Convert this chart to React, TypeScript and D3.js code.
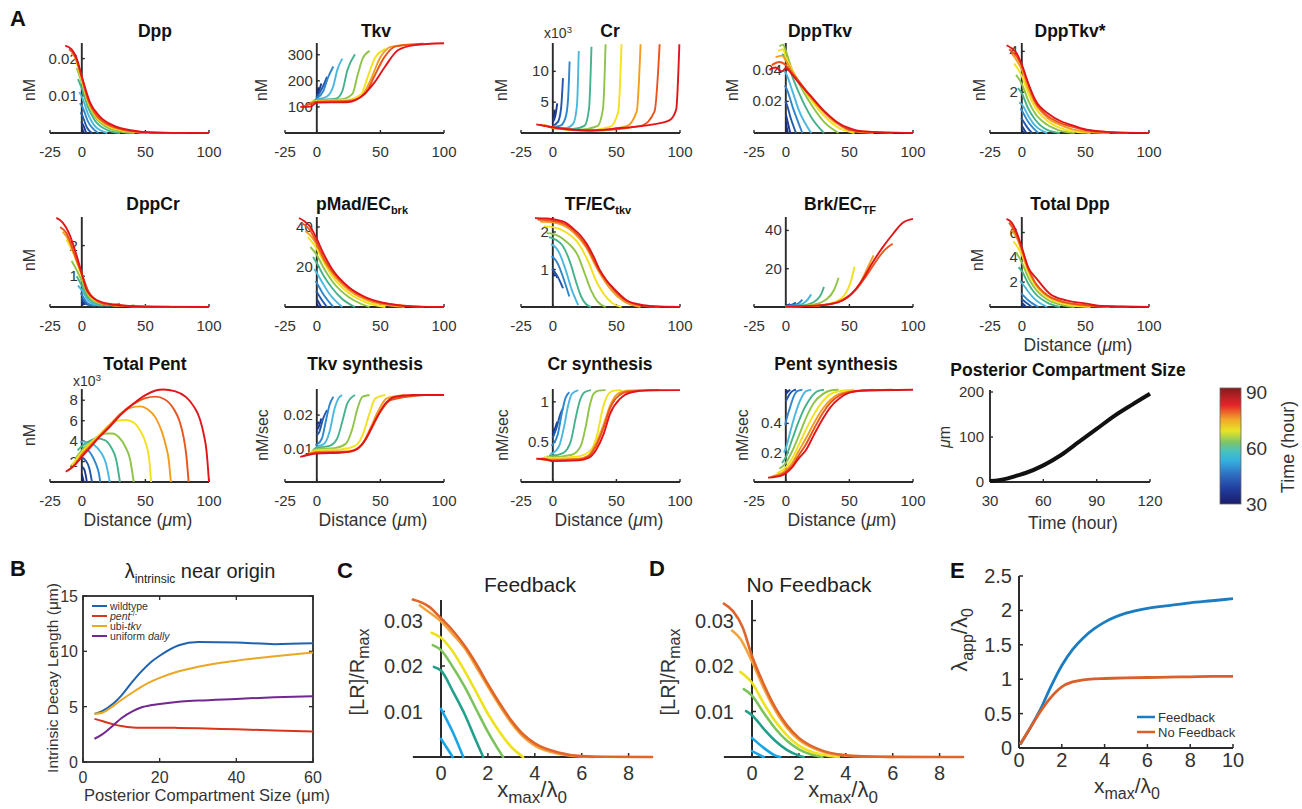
import React from 'react';
import * as d3 from 'd3';

type Pt = [number, number];

const FONT = '"Liberation Sans", Arial, Helvetica, sans-serif';
const AXIS = '#2b2b2b';
const TXT = '#333';

// ---------- panel A: shared ----------
const times = [30, 36, 42, 48, 54, 60, 66, 72, 78, 84, 90];
const timeColors = ['#172a75', '#1b3a8f', '#2257ac', '#2f86cc', '#4ab7e0', '#45b38a', '#8fc447', '#f2e11c', '#f39c1e', '#e8541c', '#e1141a'];
const distTicks = [-25, 0, 50, 100];

const dppCurves: Pt[][] = [
  [[0, 0.0015], [1.5, 0]],
  [[-0.5, 0.003], [0, 0.0028], [3.5, 0]],
  [[-1, 0.0055], [0, 0.005], [4, 0.0015], [8, 0]],
  [[-1.5, 0.008], [0, 0.0073], [5, 0.003], [13, 0]],
  [[-2, 0.011], [0, 0.0098], [5, 0.005], [10, 0.002], [20, 0]],
  [[-3, 0.0145], [0, 0.012], [5, 0.0068], [10, 0.0035], [20, 0.0008], [30, 0]],
  [[-4, 0.0175], [0, 0.0135], [5, 0.0078], [10, 0.0045], [20, 0.0015], [30, 0.0004], [41.5, 0]],
  [[-5, 0.02], [0, 0.0142], [5, 0.0083], [10, 0.005], [20, 0.002], [30, 0.0008], [54, 0]],
  [[-8, 0.0215], [-4, 0.0195], [0, 0.0147], [5, 0.0087], [10, 0.0053], [20, 0.0022], [30, 0.001], [45, 0.0002], [69, 0]],
  [[-10, 0.0225], [-5, 0.0205], [0, 0.015], [5, 0.0089], [10, 0.0055], [20, 0.0024], [30, 0.0011], [45, 0.0003], [84, 0]],
  [[-13, 0.0235], [-8, 0.0225], [-4, 0.02], [0, 0.0152], [6.5, 0.0082], [14, 0.0045], [25, 0.002], [41, 0.0006], [50, 0.0002], [70, 0.00003], [100, 0]],
];

const tkvCurves: Pt[][] = [
  [[0, 155], [1.5, 175]],
  [[0, 145], [2, 165], [3.5, 190]],
  [[-0.5, 138], [0, 140], [4, 170], [8, 215]],
  [[-1, 130], [0, 133], [5, 160], [9, 215], [13, 255]],
  [[-2, 125], [0, 128], [8, 140], [13, 180], [16, 240], [20, 285]],
  [[-3, 123], [0, 126], [15, 132], [20, 160], [24, 240], [30, 302]],
  [[-4, 120], [0, 124], [20, 130], [28, 150], [32, 220], [36, 285], [41.5, 315]],
  [[-5, 118], [0, 122], [25, 128], [35, 150], [40, 215], [46, 290], [54, 322]],
  [[-7, 110], [0, 120], [25, 124], [35, 140], [42, 200], [50, 290], [58, 330], [69, 338]],
  [[-10, 102], [0, 119], [25, 122], [38, 150], [45, 215], [53, 290], [62, 332], [84, 342]],
  [[-13, 100], [-5, 101], [0, 117], [23, 118], [30, 125], [38, 153], [45.8, 197], [53.7, 255], [64, 318], [77, 337], [100, 344]],
];

const crCurves: Pt[][] = [
  [[0, 2.5], [1, 3], [1.5, 3.8]],
  [[0, 1.8], [2, 2.8], [3.5, 4.8]],
  [[0, 1.2], [4, 1.8], [6.5, 4], [8, 8.9]],
  [[0, 1], [6, 1.2], [10, 2.5], [12, 5.5], [13.2, 11.6]],
  [[-1, 1], [0, 0.9], [10, 0.8], [16, 1.5], [19, 4.5], [20.4, 13.3]],
  [[-2, 1], [0, 0.8], [15, 0.6], [25, 1.2], [28.5, 4], [30.4, 14]],
  [[-3, 1.1], [0, 0.8], [20, 0.5], [35, 1.1], [39.5, 4], [41.5, 14.4]],
  [[-5, 1.2], [0, 0.9], [25, 0.4], [45, 1], [51.5, 3.5], [54, 14.4]],
  [[-7, 1.3], [0, 0.9], [30, 0.4], [58, 1.1], [66, 3.5], [69, 14.4]],
  [[-10, 1.35], [0, 0.9], [30, 0.4], [70, 1.2], [80, 3.5], [84, 14.4]],
  [[-13, 1.4], [0, 0.93], [29, 0.4], [53, 0.8], [79, 1.4], [92, 2.1], [97, 3.8], [99.5, 14.4]],
];

const dppTkvCurves: Pt[][] = [
  [[0, 0.007], [1.5, 0]],
  [[0, 0.012], [3.5, 0]],
  [[-0.5, 0.02], [0, 0.0195], [4, 0.009], [8, 0]],
  [[-1, 0.03], [0, 0.029], [6, 0.015], [13, 0]],
  [[-2, 0.04], [0, 0.038], [5, 0.027], [10, 0.015], [20, 0]],
  [[-3, 0.05], [0, 0.048], [5, 0.036], [10, 0.026], [20, 0.01], [30, 0]],
  [[-5, 0.055], [-2, 0.056], [0, 0.052], [5, 0.04], [10, 0.032], [20, 0.018], [30, 0.007], [41.5, 0]],
  [[-6, 0.052], [-2, 0.053], [0, 0.048], [5, 0.04], [10, 0.033], [20, 0.021], [30, 0.011], [40, 0.004], [54, 0]],
  [[-8, 0.048], [-3, 0.049], [0, 0.046], [5, 0.039], [10, 0.033], [20, 0.022], [30, 0.013], [40, 0.006], [54, 0.001], [69, 0]],
  [[-11, 0.043], [-5, 0.045], [0, 0.043], [5, 0.038], [10, 0.033], [20, 0.023], [30, 0.014], [40, 0.007], [50, 0.002], [84, 0]],
  [[-13, 0.04], [-8, 0.0415], [-3, 0.039], [0, 0.041], [5, 0.037], [10, 0.032], [20, 0.023], [30, 0.014], [40, 0.007], [50, 0.003], [60, 0.001], [100, 0]],
];

const dppTkvStarCurves: Pt[][] = [
  [[0, 0.15], [1.5, 0]],
  [[0, 0.35], [3.5, 0]],
  [[-0.5, 0.75], [0, 0.7], [4, 0.3], [8, 0]],
  [[-1, 1.2], [0, 1.1], [5, 0.55], [13, 0]],
  [[-2, 1.5], [0, 1.4], [5, 0.85], [10, 0.4], [20, 0]],
  [[-3, 2.2], [0, 1.95], [5, 1.2], [10, 0.7], [20, 0.15], [30, 0]],
  [[-4.5, 2.85], [0, 2.4], [5, 1.6], [10, 1.0], [20, 0.4], [30, 0.12], [41.5, 0]],
  [[-6, 3.4], [0, 2.8], [5, 1.95], [10, 1.3], [20, 0.6], [30, 0.25], [40, 0.08], [54, 0]],
  [[-8, 3.9], [0, 3.1], [5, 2.2], [10, 1.5], [20, 0.75], [30, 0.4], [40, 0.18], [55, 0.04], [69, 0]],
  [[-10, 4.1], [0, 3.3], [5, 2.4], [10, 1.6], [20, 0.85], [30, 0.5], [40, 0.3], [55, 0.1], [84, 0]],
  [[-12, 4.3], [-8, 4.15], [-4, 3.9], [0, 3.35], [5, 2.45], [10.5, 1.63], [22, 0.9], [30, 0.6], [38, 0.41], [51, 0.16], [60, 0.09], [75, 0.03], [100, 0]],
];

const dppCrCurves: Pt[][] = [
  [[0, 0.15], [0.8, 0.08], [1.5, 0.1]],
  [[0, 0.22], [2, 0.1], [3.5, 0.12]],
  [[0, 0.3], [3, 0.12], [6, 0.06], [8, 0.1]],
  [[-1, 0.45], [0, 0.4], [4, 0.15], [9, 0.05], [13, 0.08]],
  [[-3, 0.7], [0, 0.55], [5, 0.22], [10, 0.09], [16, 0.05], [20, 0.1]],
  [[-4, 1.0], [0, 0.7], [5, 0.3], [10, 0.14], [20, 0.05], [27, 0.08], [30, 0.12]],
  [[-8, 1.5], [-4, 1.2], [0, 0.85], [5, 0.38], [10, 0.18], [20, 0.07], [35, 0.03], [41.5, 0.06]],
  [[-12, 2.2], [-6, 1.7], [0, 1.0], [5, 0.45], [10, 0.22], [20, 0.08], [35, 0.03], [54, 0.02]],
  [[-15, 2.45], [-10, 2.15], [-5, 1.6], [0, 1.05], [5, 0.5], [10, 0.25], [20, 0.09], [40, 0.02], [69, 0.01]],
  [[-17, 2.6], [-12, 2.4], [-6, 1.75], [0, 1.08], [5, 0.52], [10, 0.26], [20, 0.08], [40, 0.02], [84, 0]],
  [[-20, 2.9], [-15, 2.75], [-10, 2.4], [-5, 1.8], [0, 1.09], [4, 0.54], [12, 0.22], [25, 0.08], [50, 0.01], [100, 0]],
];

const pMadCurves: Pt[][] = [
  [[0, 1.5], [1.5, 0]],
  [[0, 4], [3.5, 0]],
  [[-0.5, 8], [0, 7.5], [4, 3.5], [8, 0]],
  [[-1, 13], [0, 12], [5, 6.5], [13, 0]],
  [[-2, 19], [0, 17], [5, 11.5], [10, 6.5], [20, 0]],
  [[-3, 25], [0, 22], [5, 16], [12, 9.5], [20, 4], [30, 0]],
  [[-5, 30], [0, 26], [5, 20], [12, 13], [25, 5], [35, 1.5], [41.5, 0]],
  [[-7, 35], [0, 29], [5, 23], [12, 15.5], [25, 7], [38, 2.5], [54, 0]],
  [[-9, 38], [-4, 35], [0, 31], [5, 24], [12, 17], [25, 8.5], [38, 3.8], [55, 1], [69, 0]],
  [[-12, 42], [-6, 39], [0, 32], [5, 25], [12, 18], [25, 9.5], [38, 4.5], [51, 2], [84, 0]],
  [[-14, 44.5], [-10, 43], [-5, 40], [0, 34], [5, 27], [12, 19], [25, 10], [38, 5], [51, 2.3], [65, 0.8], [80, 0.2], [100, 0]],
];

const tfCurves: Pt[][] = [
  [[0, 0.9], [1.5, 0.82]],
  [[0, 1.0], [1.5, 0.92], [3.5, 0.78]],
  [[-0.5, 1.02], [0, 1.0], [4, 0.8], [8, 0.5]],
  [[-1, 1.35], [0, 1.33], [4, 1.15], [8, 0.8], [13, 0.28]],
  [[-1.5, 1.67], [0, 1.65], [5, 1.45], [10, 1.0], [15, 0.45], [20, 0.05]],
  [[-3, 1.86], [0, 1.83], [8, 1.62], [14, 1.15], [18, 0.7], [22, 0.3], [26, 0.08], [30, 0]],
  [[-5, 1.97], [0, 1.95], [10, 1.76], [20, 1.35], [25, 0.9], [30, 0.45], [35, 0.15], [41.5, 0]],
  [[-7, 2.15], [0, 2.13], [10, 2.0], [20, 1.7], [28, 1.2], [34, 0.7], [40, 0.35], [47, 0.1], [54, 0]],
  [[-10, 2.28], [0, 2.26], [10, 2.15], [16, 2.0], [26, 1.6], [36, 0.95], [46, 0.45], [56, 0.15], [69, 0]],
  [[-12, 2.33], [0, 2.3], [10, 2.2], [16, 2.05], [26, 1.65], [37, 0.95], [48, 0.45], [58, 0.16], [70, 0.04], [84, 0]],
  [[-14, 2.37], [-5, 2.36], [0, 2.34], [10, 2.25], [16, 2.09], [22, 1.9], [26.5, 1.69], [32, 1.35], [37, 0.98], [42, 0.72], [48, 0.49], [58, 0.18], [69, 0.06], [80, 0.02], [100, 0]],
];

const brkCurves: Pt[][] = [
  [[0, 0.6], [1.5, 1]],
  [[0, 0.6], [3.5, 1.5]],
  [[0, 0.5], [5, 1.2], [8, 2.3]],
  [[0, 0.5], [8, 1.2], [13, 3.8]],
  [[0, 0.4], [10, 1], [16, 3], [20, 6.6]],
  [[0, 0.3], [15, 1], [24, 3.5], [28, 7], [30, 10.5]],
  [[0, 0.3], [20, 1], [32, 4], [38, 9], [41.5, 15.3]],
  [[0, 0.3], [25, 0.8], [40, 3], [47, 7], [51, 13], [54, 21]],
  [[0, 0.3], [25, 0.8], [40, 2.5], [50, 6], [58, 12], [64, 20], [69, 27]],
  [[0, 0.3], [20, 0.6], [35, 1.5], [45, 3.8], [55, 9], [63, 16], [70, 23], [78, 30], [84, 33]],
  [[0, 0.3], [20, 0.6], [35, 1.5], [45, 3.5], [52, 7], [60, 14], [68, 23], [76, 31], [84, 38], [92, 44], [100, 46]],
];

const totalDppCurves: Pt[][] = [
  [[0, 0.15], [1.5, 0]],
  [[0, 0.35], [3.5, 0]],
  [[0, 0.65], [4, 0.3], [8, 0]],
  [[-0.5, 1.1], [0, 1.05], [5, 0.55], [13, 0]],
  [[-1.3, 2.1], [0, 1.95], [5, 1.25], [10, 0.65], [20, 0]],
  [[-2.6, 3.2], [0, 2.9], [5, 1.9], [10, 1.15], [20, 0.35], [30, 0]],
  [[-4.5, 4.4], [0, 3.6], [5, 2.4], [10, 1.55], [20, 0.6], [30, 0.2], [41.5, 0]],
  [[-6.5, 5.3], [0, 4.2], [5, 2.8], [10, 1.85], [20, 0.8], [30, 0.35], [40, 0.12], [54, 0]],
  [[-8, 6.2], [-4, 5.6], [0, 4.5], [5, 3.0], [10, 2.0], [20, 0.9], [30, 0.45], [45, 0.15], [69, 0]],
  [[-10, 6.8], [-5, 6.0], [0, 4.7], [5, 3.1], [10, 2.05], [20, 0.95], [30, 0.5], [45, 0.2], [60, 0.08], [84, 0]],
  [[-12, 7.1], [-8, 6.8], [-4, 6.0], [0, 4.8], [5, 3.2], [11.8, 2.27], [22, 1.07], [35, 0.53], [51, 0.27], [60, 0.1], [80, 0.04], [100, 0]],
];

const totalPentCurves: Pt[][] = [
  [[0, 0.8], [1.5, 0]],
  [[0, 1.5], [2, 1.2], [4, 0]],
  [[0, 2.4], [3, 2.1], [6, 1.3], [8, 0]],
  [[0, 3.4], [4, 3.2], [8, 2.6], [11, 1.8], [13.5, 0.8], [14.5, 0]],
  [[-1.3, 3.9], [0, 3.95], [5, 3.9], [10, 3.6], [15, 2.9], [19, 1.8], [22, 0]],
  [[-3.4, 3.1], [0, 3.5], [6, 4.0], [12, 4.25], [18, 4.1], [23, 3.4], [27, 2.2], [30, 0]],
  [[-5, 2.3], [0, 3.1], [6, 3.8], [13, 4.5], [19, 4.75], [24, 4.75], [29, 4.4], [34, 3.5], [38, 2.2], [40.8, 0]],
  [[-8, 1.6], [0, 2.9], [6, 3.7], [13, 4.5], [20, 5.4], [28, 6.0], [35, 6.07], [41, 5.8], [46, 5.0], [50, 3.9], [53, 2.2], [54.5, 0]],
  [[-9, 1.3], [-4, 1.9], [0, 2.7], [6, 3.5], [13, 4.4], [22, 5.6], [30, 6.6], [38, 7.25], [46, 7.4], [52, 7.1], [58, 6.3], [63, 4.9], [66, 3.6], [68.5, 2], [70, 0]],
  [[-11, 1.1], [-5, 1.75], [0, 2.6], [6, 3.4], [13, 4.35], [22, 5.5], [30, 6.6], [40, 7.6], [50, 8.2], [58, 8.35], [65, 8.1], [72, 7.2], [77, 5.9], [80, 4.4], [82, 2.8], [84, 0]],
  [[-12.6, 1], [-6, 1.6], [0, 2.45], [6, 3.3], [13, 4.3], [22, 5.4], [30, 6.5], [40, 7.6], [50, 8.5], [58, 8.95], [64, 9.05], [73, 8.9], [82, 8.3], [88, 7.4], [93, 6.1], [96, 4.6], [98, 3.1], [100, 0]],
];

const tkvSynCurves: Pt[][] = [
  [[0, 0.017], [1.5, 0.018]],
  [[0, 0.0155], [2, 0.017], [3.5, 0.019]],
  [[0, 0.014], [2, 0.015], [5, 0.019], [8, 0.0215]],
  [[-1, 0.011], [0, 0.0112], [4, 0.013], [7, 0.018], [10, 0.023], [13, 0.0255]],
  [[-2, 0.0098], [0, 0.0105], [6, 0.0115], [10, 0.015], [14, 0.022], [17, 0.025], [20, 0.026]],
  [[-3, 0.0095], [0, 0.0102], [10, 0.0108], [16, 0.013], [20, 0.018], [24, 0.0235], [30, 0.026]],
  [[-4, 0.009], [0, 0.0098], [15, 0.0102], [23, 0.0115], [28, 0.016], [32, 0.022], [36, 0.0255], [41.5, 0.026]],
  [[-6, 0.0085], [0, 0.0095], [20, 0.0098], [30, 0.0108], [36, 0.014], [41, 0.02], [46, 0.025], [54, 0.026]],
  [[-8, 0.008], [0, 0.009], [25, 0.0092], [35, 0.011], [42, 0.016], [48, 0.021], [55, 0.025], [69, 0.026]],
  [[-10, 0.0078], [0, 0.0088], [25, 0.009], [35, 0.011], [43, 0.016], [50, 0.021], [58, 0.0245], [84, 0.026]],
  [[-13, 0.0075], [0, 0.0085], [20, 0.0088], [30, 0.0095], [38, 0.0125], [46, 0.0185], [54, 0.0235], [62, 0.0255], [75, 0.026], [100, 0.026]],
];

const crSynCurves: Pt[][] = [
  [[0, 0.62], [1.5, 0.66]],
  [[0, 0.6], [2, 0.68], [3.5, 0.75]],
  [[0, 0.55], [3, 0.68], [6, 0.85], [8, 0.92]],
  [[-1, 0.45], [0, 0.47], [4, 0.6], [7, 0.85], [10, 1.05], [13, 1.12]],
  [[-2, 0.35], [0, 0.36], [5, 0.45], [9, 0.7], [12, 0.95], [15, 1.1], [20, 1.146]],
  [[-3, 0.33], [0, 0.33], [8, 0.36], [14, 0.5], [18, 0.8], [21, 1.0], [25, 1.12], [30, 1.146]],
  [[-5, 0.32], [0, 0.31], [15, 0.34], [22, 0.45], [26, 0.7], [29, 0.95], [32, 1.1], [36, 1.14], [41.5, 1.146]],
  [[-7, 0.31], [0, 0.3], [20, 0.32], [30, 0.4], [35, 0.6], [39, 0.9], [43, 1.08], [48, 1.14], [54, 1.146]],
  [[-9, 0.3], [0, 0.28], [20, 0.29], [28, 0.33], [34, 0.48], [40, 0.72], [45, 0.95], [51, 1.1], [58, 1.14], [69, 1.146]],
  [[-11, 0.29], [0, 0.27], [20, 0.28], [28, 0.32], [34, 0.45], [40, 0.68], [45, 0.92], [52, 1.08], [60, 1.13], [84, 1.146]],
  [[-13, 0.29], [-5, 0.28], [0, 0.26], [20, 0.27], [28, 0.3], [34, 0.4], [40, 0.6], [45, 0.85], [53, 1.04], [62, 1.12], [75, 1.145], [100, 1.146]],
];

const pentSynCurves: Pt[][] = [
  [[0, 0.61], [1.5, 0.625]],
  [[0, 0.6], [2, 0.62], [3.5, 0.63]],
  [[0, 0.55], [3, 0.6], [6, 0.625], [8, 0.63]],
  [[-0.5, 0.39], [0, 0.41], [3, 0.5], [6, 0.58], [9, 0.62], [13, 0.63]],
  [[-1.5, 0.2], [0, 0.23], [4, 0.36], [8, 0.48], [12, 0.57], [16, 0.62], [20, 0.63]],
  [[-3, 0.13], [0, 0.17], [5, 0.29], [10, 0.41], [15, 0.51], [20, 0.58], [25, 0.62], [30, 0.63]],
  [[-5, 0.09], [0, 0.13], [5, 0.21], [10, 0.31], [16, 0.44], [22, 0.54], [29, 0.6], [35, 0.625], [41.5, 0.63]],
  [[-7, 0.06], [0, 0.1], [5, 0.16], [10, 0.25], [16, 0.36], [22, 0.46], [29, 0.55], [35, 0.6], [42, 0.62], [54, 0.63]],
  [[-10, 0.04], [0, 0.08], [5, 0.13], [10, 0.21], [16, 0.3], [22, 0.4], [29, 0.5], [35, 0.56], [45, 0.61], [69, 0.63]],
  [[-12, 0.035], [-5, 0.045], [0, 0.07], [5, 0.11], [10, 0.18], [16, 0.26], [22, 0.36], [29, 0.47], [35, 0.54], [42, 0.59], [55, 0.62], [84, 0.63]],
  [[-14, 0.03], [-8, 0.035], [-3, 0.045], [0, 0.06], [5, 0.1], [10, 0.16], [16, 0.22], [22, 0.32], [29, 0.43], [35, 0.51], [42, 0.57], [50, 0.61], [60, 0.625], [100, 0.63]],
];

// posterior compartment size vs time
const pcsTime = [30, 35, 40, 45, 50, 60, 70, 80, 90, 100, 110, 120];
const pcsSize = [2, 4, 8, 14, 20, 37, 60, 89, 118, 147, 172, 196];

// ---------- panel B ----------
const bSize = [3, 5, 8, 10, 13, 15, 18, 20, 25, 30, 40, 50, 60];
const bWildtype = [4.35, 4.6, 5.3, 6.0, 7.3, 8.1, 9.1, 9.6, 10.55, 10.85, 10.8, 10.65, 10.72];
const bPent = [3.9, 3.7, 3.4, 3.25, 3.12, 3.1, 3.1, 3.1, 3.08, 3.05, 2.95, 2.85, 2.75];
const bUbiTkv = [4.35, 4.45, 5.1, 5.6, 6.3, 6.75, 7.3, 7.6, 8.2, 8.6, 9.15, 9.55, 9.9];
const bDally = [2.1, 2.5, 3.35, 3.95, 4.6, 4.9, 5.15, 5.25, 5.45, 5.55, 5.7, 5.85, 5.95];

// ---------- panels C, D ----------
const cdColors = ['#19a5e5', '#19a5e5', '#23a08c', '#7bc35b', '#eee21d', '#f3a43c', '#e0652a'];
const feedbackCurves: Pt[][] = [
  [[0, 0.004], [0.5, 0]],
  [[0, 0.0106], [0.5, 0.0055], [0.95, 0]],
  [[-0.3, 0.0198], [0, 0.019], [0.5, 0.0145], [1, 0.0095], [1.5, 0.0035], [1.8, 0]],
  [[-0.35, 0.0246], [0, 0.0235], [0.5, 0.0198], [1, 0.0155], [1.5, 0.0105], [2, 0.0055], [2.4, 0.002], [2.65, 0]],
  [[-0.4, 0.0273], [0, 0.0262], [0.5, 0.0232], [1, 0.019], [1.5, 0.0143], [2, 0.0095], [2.5, 0.0055], [3, 0.0022], [3.5, 0]],
  [[-0.9, 0.0333], [-0.5, 0.0318], [0, 0.0298], [0.5, 0.027], [1, 0.024], [1.5, 0.0198], [2, 0.0155], [2.5, 0.0113], [3, 0.0075], [3.5, 0.0045], [4, 0.0025], [5, 0.0007], [6, 0.0001], [6.5, 0]],
  [[-1.2, 0.0346], [-0.5, 0.033], [0, 0.0305], [0.5, 0.0278], [1, 0.0245], [1.5, 0.0205], [2, 0.016], [2.5, 0.0118], [3, 0.008], [3.5, 0.005], [4, 0.003], [5, 0.001], [6, 0.0002], [7, 0.00005], [9, 0]],
];
const noFeedbackCurves: Pt[][] = [
  [[0, 0.0013], [0.5, 0]],
  [[0, 0.0042], [0.5, 0.002], [1, 0.0003], [1.2, 0]],
  [[-0.25, 0.0101], [0, 0.0092], [0.5, 0.0062], [1, 0.0035], [1.5, 0.0015], [2, 0.0003], [2.2, 0]],
  [[-0.35, 0.0149], [0, 0.0135], [0.5, 0.0097], [1, 0.0062], [1.5, 0.0035], [2, 0.0017], [2.5, 0.0006], [3, 0]],
  [[-0.5, 0.0187], [0, 0.0163], [0.5, 0.0118], [1, 0.0078], [1.5, 0.0047], [2, 0.0025], [2.5, 0.0012], [3, 0.0005], [3.7, 0]],
  [[-0.85, 0.0278], [-0.5, 0.026], [0, 0.021], [0.5, 0.0152], [1, 0.0102], [1.5, 0.0064], [2, 0.0038], [3, 0.0012], [4, 0.0003], [5, 0.0001], [6, 0]],
  [[-1.2, 0.0337], [-0.8, 0.032], [-0.4, 0.0285], [0, 0.0222], [0.5, 0.016], [1, 0.0108], [1.5, 0.0069], [2, 0.0042], [3, 0.0014], [4, 0.0004], [5, 0.0001], [6, 0.00003], [9, 0]],
];
const cdXTicks = [0, 2, 4, 6, 8];
const cdYTicks = [0.01, 0.02, 0.03];

// ---------- panel E ----------
const eX = [0.05, 0.5, 1, 1.5, 2, 2.5, 3, 3.5, 4, 5, 6, 7, 8, 9, 10];
const eFeedback = [0.05, 0.28, 0.56, 0.9, 1.2, 1.43, 1.6, 1.73, 1.83, 1.96, 2.03, 2.07, 2.11, 2.14, 2.17];
const eNoFeedback = [0.05, 0.28, 0.53, 0.74, 0.89, 0.96, 0.99, 1.005, 1.01, 1.02, 1.025, 1.03, 1.035, 1.04, 1.04];
const eXTicks = [0, 2, 4, 6, 8, 10];
const eYTicks = [0, 0.5, 1, 1.5, 2, 2.5];

// ---------- layout of panel A ----------
const colLeft = [50, 285, 521, 754, 990];
const rowBase = [133, 307, 482];
const rowTop = [43, 217, 389];
const rowTitleY = [37, 210, 370];
const rowYLabelY = [90, 260, 435];

const panelsA = [
  { curves: dppCurves, col: 0, row: 0, ymax: 0.0242, yt: [0.01, 0.02], yl: ['0.01', '0.02'], title: 'Dpp', tx: 155, ylab: 'nM', ylx: 30 },
  { curves: tkvCurves, col: 1, row: 0, ymax: 345, yt: [100, 200, 300], yl: ['100', '200', '300'], title: 'Tkv', tx: 376, ylab: 'nM', ylx: 262 },
  { curves: crCurves, col: 2, row: 0, ymax: 14.6, yt: [5, 10], yl: ['5', '10'], title: 'Cr', tx: 610, ylab: 'nM', ylx: 502, exp: [558, 38] },
  { curves: dppTkvCurves, col: 3, row: 0, ymax: 0.057, yt: [0.02, 0.04], yl: ['0.02', '0.04'], title: 'DppTkv', tx: 820, ylab: 'nM', ylx: 733 },
  { curves: dppTkvStarCurves, col: 4, row: 0, ymax: 4.41, yt: [2, 4], yl: ['2', '4'], title: 'DppTkv*', tx: 1070, ylab: 'nM', ylx: 980 },
  { curves: dppCrCurves, col: 0, row: 1, ymax: 2.93, yt: [1, 2], yl: ['1', '2'], title: 'DppCr', tx: 153, ylab: 'nM', ylx: 30 },
  { curves: pMadCurves, col: 1, row: 1, ymax: 45, yt: [20, 40], yl: ['20', '40'], title: 'pMad/EC', sub: 'brk', tx: 362 },
  { curves: tfCurves, col: 2, row: 1, ymax: 2.4, yt: [1, 2], yl: ['1', '2'], title: 'TF/EC', sub: 'tkv', tx: 598 },
  { curves: brkCurves, col: 3, row: 1, ymax: 47, yt: [20, 40], yl: ['20', '40'], title: 'Brk/EC', sub: 'TF', tx: 840 },
  { curves: totalDppCurves, col: 4, row: 1, ymax: 7.25, yt: [2, 4, 6], yl: ['2', '4', '6'], title: 'Total Dpp', tx: 1070, ylab: 'nM', ylx: 978, xlab: true },
  { curves: totalPentCurves, col: 0, row: 2, ymax: 9.1, yt: [2, 4, 6, 8], yl: ['2', '4', '6', '8'], title: 'Total Pent', tx: 145, ylab: 'nM', ylx: 30, xlab: true, exp: [87, 386] },
  { curves: tkvSynCurves, col: 1, row: 2, ymax: 0.0278, yt: [0.01, 0.02], yl: ['0.01', '0.02'], title: 'Tkv synthesis', tx: 365, ylab: 'nM/sec', ylx: 263, xlab: true },
  { curves: crSynCurves, col: 2, row: 2, ymax: 1.16, yt: [0.5, 1], yl: ['0.5', '1'], title: 'Cr synthesis', tx: 600, ylab: 'nM/sec', ylx: 503, xlab: true },
  { curves: pentSynCurves, col: 3, row: 2, ymax: 0.635, yt: [0.2, 0.4], yl: ['0.2', '0.4'], title: 'Pent synthesis', tx: 836, ylab: 'nM/sec', ylx: 743, xlab: true },
];

function makeLine(x: d3.ScaleLinear<number, number>, y: d3.ScaleLinear<number, number>) {
  return d3.line<Pt>().x(d => x(d[0])).y(d => y(d[1])).curve(d3.curveMonotoneX);
}

function SmallPanel({ p }: { p: any }) {
  const L = colLeft[p.col];
  const base = rowBase[p.row];
  const top = rowTop[p.row];
  const x = d3.scaleLinear().domain([-25, 100]).range([L, L + 159]);
  const y = d3.scaleLinear().domain([0, p.ymax]).range([base, top]);
  const line = makeLine(x, y);
  const x0 = x(0);
  return (
    <g>
      {p.yt.map((t: number, i: number) => (
        <text key={'y' + i} x={x0 - 4} y={y(t) + 5} textAnchor="end" fontSize={15} fill={TXT}>{p.yl[i]}</text>
      ))}
      {distTicks.map(t => (
        <text key={'x' + t} x={x(t)} y={base + 24} textAnchor="middle" fontSize={15} fill={TXT}>{t}</text>
      ))}
      <line x1={x(-25)} x2={x(100)} y1={base} y2={base} stroke={AXIS} strokeWidth={1.9} />
      <line x1={x0} x2={x0} y1={base} y2={top} stroke={AXIS} strokeWidth={1.9} />
      {distTicks.map(t => (
        <line key={'xt' + t} x1={x(t)} x2={x(t)} y1={base} y2={base - 3} stroke={AXIS} strokeWidth={1.4} />
      ))}
      {p.yt.map((t: number) => (
        <line key={'yt' + t} x1={x0} x2={x0 + 3} y1={y(t)} y2={y(t)} stroke={AXIS} strokeWidth={1.4} />
      ))}
      <g fill="none" strokeWidth={1.9} strokeLinejoin="round">
        {p.curves.map((c: Pt[], i: number) => (
          <path key={i} d={line(c) || ''} stroke={timeColors[i]} />
        ))}
      </g>
      <text x={p.tx} y={rowTitleY[p.row]} textAnchor="middle" fontSize={17.5} fontWeight="bold" fill="#111">
        {p.title}
        {p.sub && <tspan fontSize={11} dy={4}>{p.sub}</tspan>}
      </text>
      {p.ylab && (
        <text transform={`translate(${p.ylx},${rowYLabelY[p.row]}) rotate(-90)`} textAnchor="middle" dy={5} fontSize={16} fill={TXT}>{p.ylab}</text>
      )}
      {p.xlab && (
        <text x={L + 88} y={base + 44} textAnchor="middle" fontSize={17.5} fill={TXT}>
          Distance (<tspan fontStyle="italic">μ</tspan>m)
        </text>
      )}
      {p.exp && (
        <text x={p.exp[0]} y={p.exp[1]} textAnchor="middle" fontSize={14} fill={TXT}>
          x10<tspan fontSize={9.5} dy={-5}>3</tspan>
        </text>
      )}
    </g>
  );
}

function SizePanel() {
  const x = d3.scaleLinear().domain([30, 120]).range([990, 1150]);
  const y = d3.scaleLinear().domain([0, 200]).range([482, 392]);
  const pts: Pt[] = pcsTime.map((t, i) => [t, pcsSize[i]]);
  const line = makeLine(x, y);
  return (
    <g>
      <line x1={990} x2={1150} y1={482} y2={482} stroke={AXIS} strokeWidth={1.9} />
      <line x1={990} x2={990} y1={482} y2={390} stroke={AXIS} strokeWidth={1.9} />
      {[30, 60, 90, 120].map(t => (
        <g key={t}>
          <line x1={x(t)} x2={x(t)} y1={482} y2={479} stroke={AXIS} strokeWidth={1.4} />
          <text x={x(t)} y={506} textAnchor="middle" fontSize={15} fill={TXT}>{t}</text>
        </g>
      ))}
      {[0, 100, 200].map(v => (
        <g key={v}>
          <line x1={990} x2={993} y1={y(v)} y2={y(v)} stroke={AXIS} strokeWidth={1.4} />
          <text x={984} y={y(v) + 5} textAnchor="end" fontSize={15} fill={TXT}>{v}</text>
        </g>
      ))}
      <path d={line(pts) || ''} fill="none" stroke="#111" strokeWidth={4} />
      <text x={1068} y={376} textAnchor="middle" fontSize={17.5} fontWeight="bold" fill="#111">Posterior Compartment Size</text>
      <text x={1073} y={529} textAnchor="middle" fontSize={17.5} fill={TXT}>Time (hour)</text>
      <text transform="translate(945,437) rotate(-90)" textAnchor="middle" dy={5} fontSize={16} fill={TXT} fontStyle="italic">μ<tspan fontStyle="normal">m</tspan></text>
    </g>
  );
}

const barStops: [number, string][] = [
  [0, '#1a1c6a'], [0.12, '#1f3a9a'], [0.25, '#2f6cc0'], [0.37, '#36aee0'], [0.45, '#45c2c0'],
  [0.53, '#7cc46a'], [0.63, '#e8e424'], [0.73, '#f2a52a'], [0.85, '#e5262a'], [1, '#861a1c'],
];

function ColorBar() {
  const y = d3.scaleLinear().domain([30, 90]).range([504, 392]);
  return (
    <g>
      <defs>
        <linearGradient id="jetbar" x1="0" y1="1" x2="0" y2="0">
          {barStops.map(([o, c]) => <stop key={o} offset={o} stopColor={c} />)}
        </linearGradient>
      </defs>
      <rect x={1220} y={388} width={21} height={116} fill="url(#jetbar)" stroke="#666" strokeWidth={0.8} />
      {[30, 60, 90].map(t => (
        <text key={t} x={1246} y={y(t) + 7} fontSize={19} fill={TXT}>{t}</text>
      ))}
      <text transform="translate(1288,447) rotate(-90)" textAnchor="middle" dy={6} fontSize={18} fill={TXT}>Time (hour)</text>
    </g>
  );
}

function PanelB() {
  const x = d3.scaleLinear().domain([0, 60]).range([83, 313]);
  const y = d3.scaleLinear().domain([0, 15]).range([762, 596]);
  const line = makeLine(x, y);
  const series = [
    { v: bWildtype, c: '#1f62b0' },
    { v: bPent, c: '#d7361c' },
    { v: bUbiTkv, c: '#eba622' },
    { v: bDally, c: '#72288e' },
  ];
  const legendY = [606, 616, 626, 636];
  return (
    <g>
      <rect x={83} y={596} width={230} height={166} fill="none" stroke={AXIS} strokeWidth={1.8} />
      {[0, 20, 40, 60].map(t => (
        <g key={t}>
          <line x1={x(t)} x2={x(t)} y1={762} y2={758} stroke={AXIS} strokeWidth={1.3} />
          <line x1={x(t)} x2={x(t)} y1={596} y2={600} stroke={AXIS} strokeWidth={1.3} />
          <text x={x(t)} y={783} textAnchor="middle" fontSize={16} fill={TXT}>{t}</text>
        </g>
      ))}
      {[0, 5, 10, 15].map(t => (
        <g key={t}>
          <line x1={83} x2={87} y1={y(t)} y2={y(t)} stroke={AXIS} strokeWidth={1.3} />
          <line x1={313} x2={309} y1={y(t)} y2={y(t)} stroke={AXIS} strokeWidth={1.3} />
          <text x={78} y={y(t) + 6} textAnchor="end" fontSize={16} fill={TXT}>{t}</text>
        </g>
      ))}
      <g fill="none" strokeWidth={2}>
        {series.map((s, i) => (
          <path key={i} d={line(bSize.map((b, j) => [b, s.v[j]] as Pt)) || ''} stroke={s.c} />
        ))}
      </g>
      <g fontSize={10.5} fill={TXT}>
        {series.map((s, i) => (
          <line key={i} x1={92} x2={107} y1={legendY[i]} y2={legendY[i]} stroke={s.c} strokeWidth={2} />
        ))}
        <text x={110} y={legendY[0] + 4}>wildtype</text>
        <text x={110} y={legendY[1] + 4}><tspan fontStyle="italic">pent</tspan><tspan fontSize={7} dy={-4}>-/-</tspan></text>
        <text x={110} y={legendY[2] + 4}>ubi-<tspan fontStyle="italic">tkv</tspan></text>
        <text x={110} y={legendY[3] + 4}>uniform <tspan fontStyle="italic">dally</tspan></text>
      </g>
      <text x={200} y={578} textAnchor="middle" fontSize={20} fill="#222">
        λ<tspan fontSize={12} dy={5}>intrinsic</tspan><tspan dy={-5}> near origin</tspan>
      </text>
      <text x={207} y={801} textAnchor="middle" fontSize={16.5} fill={TXT}>Posterior Compartment Size (μm)</text>
      <text transform="translate(53,678) rotate(-90)" textAnchor="middle" dy={5} fontSize={15.5} fill={TXT}>Intrinsic Decay Length (μm)</text>
    </g>
  );
}

function PanelCD({ originX, curves, title, titleX }: { originX: number; curves: Pt[][]; title: string; titleX: number }) {
  const x = d3.scaleLinear().domain([0, 1]).range([originX, originX + 23.45]);
  const y = d3.scaleLinear().domain([0, 0.01]).range([757, 711.5]);
  const line = makeLine(x, y);
  return (
    <g>
      {cdYTicks.map(t => (
        <text key={t} x={originX - 18} y={y(t) + 7} textAnchor="end" fontSize={20} fill={TXT}>{t}</text>
      ))}
      {cdXTicks.map(t => (
        <text key={t} x={x(t)} y={780} textAnchor="middle" fontSize={20} fill={TXT}>{t}</text>
      ))}
      <line x1={x(-1.2)} x2={x(9)} y1={757} y2={757} stroke={AXIS} strokeWidth={2} />
      <line x1={originX} x2={originX} y1={757} y2={600} stroke={AXIS} strokeWidth={2} />
      {cdXTicks.slice(1).map(t => (
        <line key={t} x1={x(t)} x2={x(t)} y1={757} y2={753} stroke={AXIS} strokeWidth={1.5} />
      ))}
      {cdYTicks.map(t => (
        <line key={t} x1={originX} x2={originX + 4} y1={y(t)} y2={y(t)} stroke={AXIS} strokeWidth={1.5} />
      ))}
      <g fill="none" strokeWidth={2.6} strokeLinecap="round">
        {curves.map((c, i) => <path key={i} d={line(c) || ''} stroke={cdColors[i]} />)}
      </g>
      <text x={titleX} y={592} textAnchor="middle" fontSize={21} fill="#222">{title}</text>
      <text transform={`translate(${originX - 84},672) rotate(-90)`} textAnchor="middle" dy={7} fontSize={20} fill={TXT}>
        [LR]/R<tspan fontSize={16} dy={5}>max</tspan>
      </text>
      <text x={originX + 91} y={797} textAnchor="middle" fontSize={22} fill={TXT}>
        x<tspan fontSize={17} dy={6}>max</tspan><tspan dy={-6}>/λ</tspan><tspan fontSize={17} dy={6}>0</tspan>
      </text>
    </g>
  );
}

function PanelE() {
  const x = d3.scaleLinear().domain([0, 10]).range([1019, 1233]);
  const y = d3.scaleLinear().domain([0, 2.5]).range([748, 576]);
  const line = makeLine(x, y);
  return (
    <g>
      <line x1={1019} x2={1233} y1={748} y2={748} stroke={AXIS} strokeWidth={2} />
      <line x1={1019} x2={1019} y1={748} y2={576} stroke={AXIS} strokeWidth={2} />
      {eXTicks.map(t => (
        <g key={t}>
          <line x1={x(t)} x2={x(t)} y1={748} y2={744} stroke={AXIS} strokeWidth={1.5} />
          <text x={x(t)} y={767} textAnchor="middle" fontSize={20} fill={TXT}>{t}</text>
        </g>
      ))}
      {eYTicks.map(t => (
        <g key={t}>
          <line x1={1019} x2={1023} y1={y(t)} y2={y(t)} stroke={AXIS} strokeWidth={1.5} />
          <text x={1012} y={y(t) + 7} textAnchor="end" fontSize={20} fill={TXT}>{t}</text>
        </g>
      ))}
      <g fill="none" strokeWidth={2.8}>
        <path d={line(eX.map((v, i) => [v, eFeedback[i]] as Pt)) || ''} stroke="#1b7cc0" />
        <path d={line(eX.map((v, i) => [v, eNoFeedback[i]] as Pt)) || ''} stroke="#d9602a" />
      </g>
      <line x1={1137} x2={1155} y1={717} y2={717} stroke="#1b7cc0" strokeWidth={2.5} />
      <line x1={1137} x2={1155} y1={732} y2={732} stroke="#d9602a" strokeWidth={2.5} />
      <text x={1158} y={721.5} fontSize={13} fill={TXT}>Feedback</text>
      <text x={1158} y={736.5} fontSize={13} fill={TXT}>No Feedback</text>
      <text transform="translate(960,640) rotate(-90)" textAnchor="middle" dy={7} fontSize={22} fill={TXT}>
        λ<tspan fontSize={16} dy={6}>app</tspan><tspan dy={-6}>/λ</tspan><tspan fontSize={16} dy={6}>0</tspan>
      </text>
      <text x={1127} y={793} textAnchor="middle" fontSize={21} fill={TXT}>
        x<tspan fontSize={16} dy={6}>max</tspan><tspan dy={-6}>/λ</tspan><tspan fontSize={16} dy={6}>0</tspan>
      </text>
    </g>
  );
}

export default function App() {
  return (
    <svg width={1302} height={809} style={{ position: 'absolute', left: 0, top: 0, background: '#fff' }} fontFamily={FONT}>
      <text x={10} y={26} fontSize={22} fontWeight="bold" fill="#111">A</text>
      <text x={10} y={576} fontSize={22} fontWeight="bold" fill="#111">B</text>
      <text x={337} y={578} fontSize={22} fontWeight="bold" fill="#111">C</text>
      <text x={649} y={576} fontSize={22} fontWeight="bold" fill="#111">D</text>
      <text x={950} y={578} fontSize={22} fontWeight="bold" fill="#111">E</text>
      {panelsA.map((p, i) => <SmallPanel key={i} p={p} />)}
      <SizePanel />
      <ColorBar />
      <PanelB />
      <PanelCD originX={441} curves={feedbackCurves} title="Feedback" titleX={530} />
      <PanelCD originX={752} curves={noFeedbackCurves} title="No Feedback" titleX={809} />
      <PanelE />
    </svg>
  );
}
